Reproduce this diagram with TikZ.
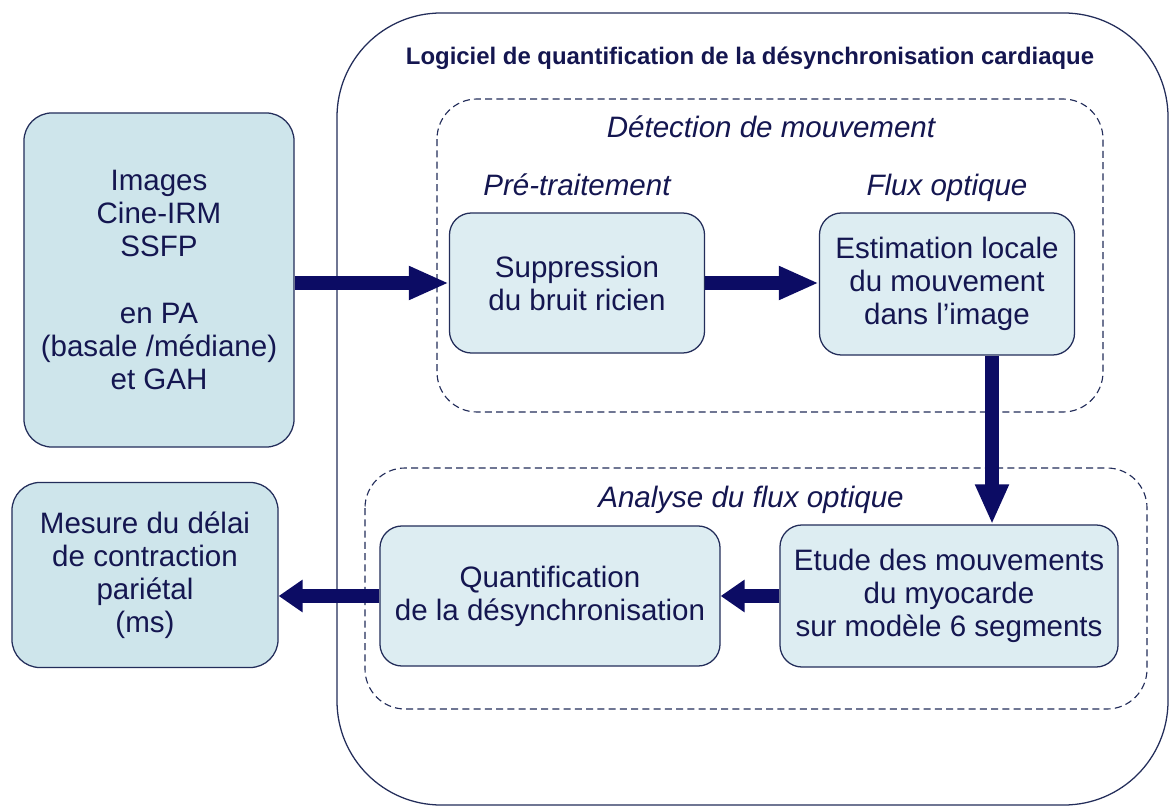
\documentclass[tikz,border=0pt]{standalone}
\usepackage{fontspec}
\setmainfont{Liberation Sans}
\usetikzlibrary{arrows.meta,positioning}

\definecolor{navy}{RGB}{12,12,100}
\definecolor{bord}{RGB}{35,45,90}
\definecolor{txtblue}{RGB}{20,22,80}
\definecolor{fillout}{RGB}{206,229,235}
\definecolor{fillin}{RGB}{221,237,242}

\tikzset{
	etape/.style={draw=bord, line width=0.9pt, fill=fillin, rounded corners=0.55cm, align=center, text=txtblue, font=\fontsize{21}{23.5}\selectfont, inner sep=0pt},
	entree/.style={etape, fill=fillout, rounded corners=0.7cm},
	groupe/.style={draw=bord, line width=0.8pt, dash pattern=on 5pt off 3pt, rounded corners=1cm},
	logiciel/.style={draw=bord, line width=0.9pt, rounded corners=2.6cm},
	soustitre/.style={anchor=base, text=txtblue, font=\fontsize{21}{24}\selectfont\itshape, inner sep=0pt},
	fleche/.style={draw=navy, line width=10.5pt, -{Triangle[length=1cm,width=0.78cm]}},
	courte/.style={fleche, -{Triangle[length=0.6cm,width=0.78cm]}}
}

\begin{document}
\begin{tikzpicture}[x=0.025cm, y=-0.025cm]

	\fill[white] (0,0) rectangle (1171,807);
	\useasboundingbox (0,0) rectangle (1171,807);

	\draw[logiciel] (337,13) rectangle (1168,805);
	\node[anchor=base, text=txtblue, font=\fontsize{17}{20}\selectfont\bfseries] (titre) at (750,65) {Logiciel de quantification de la désynchronisation cardiaque};

	\draw[groupe] (437,99) rectangle (1103,412);
	\node[soustitre] (detect) at (771,138) {Détection de mouvement};
	\draw[groupe] (365,468) rectangle (1147,709);
	\node[soustitre] (analyse) at (751,507) {Analyse du flux optique};

	\node[entree, minimum width=6.75cm, minimum height=8.35cm] (img) at (159,280) {Images\\Cine-IRM\\SSFP\\[23.5pt]en PA\\(basale /médiane)\\et GAH};
	\node[entree, minimum width=6.65cm, minimum height=4.625cm] (mes) at (145,575) {Mesure du délai\\de contraction\\pariétal\\(ms)};

	\node[etape, minimum width=6.375cm, minimum height=3.5cm] (sup) at (577,283) {Suppression\\du bruit ricien};
	\node[etape, minimum width=6.375cm, minimum height=3.55cm] (est) at (947,284) {Estimation locale\\du mouvement\\dans l’image};
	\node[soustitre] (pretrait) at (577,196) {Pré-traitement};
	\node[soustitre] (flux) at (947,196) {Flux optique};

	\node[etape, minimum width=8.45cm, minimum height=3.55cm] (etu) at (949,596) {Etude des mouvements\\du myocarde\\sur modèle 6 segments};
	\node[etape, minimum width=8.5cm, minimum height=3.5cm] (qua) at (550,596) {Quantification\\de la désynchronisation};

	\draw[fleche] (sup.west -| img.east) -- (sup.west);
	\draw[fleche] (sup.east) -- (sup.east -| est.west);
	\draw[fleche] ([xshift=1.125cm]est.south) -- ([xshift=1.125cm]est.south |- etu.north);
	\draw[courte] (etu.west) -- (qua.east);
	\draw[courte] (qua.west) -- (qua.west -| mes.east);

\end{tikzpicture}
\end{document}
